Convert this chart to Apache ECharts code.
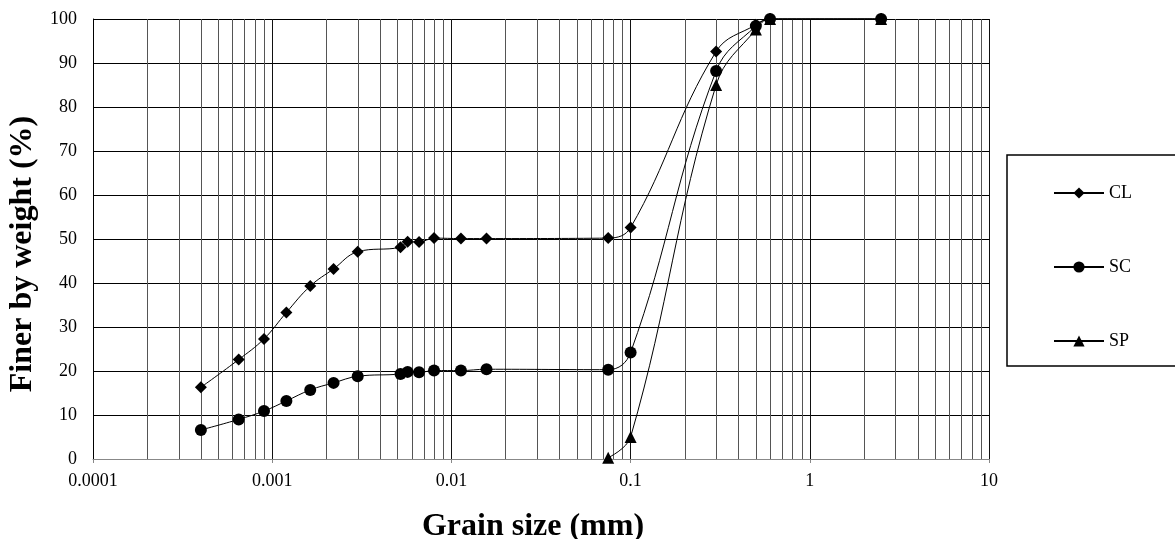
<!DOCTYPE html>
<html>
<head>
<meta charset="utf-8">
<script src="https://cdn.jsdelivr.net/npm/echarts@6/dist/echarts.min.js"></script>
<style>
  html, body { margin: 0; padding: 0; background: #fff; }
  #chart { width: 1175px; height: 539px; }
</style>
</head>
<body>
<div id="chart"></div>
<script>
// Grain size distribution curves (log grain size vs. percent finer)
const seriesNames = ['CL', 'SC', 'SP'];

const clSize = [0.0004, 0.00065, 0.0009, 0.0012, 0.00163, 0.0022, 0.003, 0.0052, 0.0057, 0.0066, 0.008, 0.0113, 0.0157, 0.075, 0.1, 0.3, 0.5, 0.6, 2.5];
const clFiner = [16.3, 22.6, 27.3, 33.3, 39.3, 43.2, 47.1, 48.1, 49.4, 49.3, 50.2, 50.1, 50.1, 50.2, 52.6, 92.6, 98.7, 100, 100];

const scSize = [0.0004, 0.00065, 0.0009, 0.0012, 0.00163, 0.0022, 0.003, 0.0052, 0.0057, 0.0066, 0.008, 0.0113, 0.0157, 0.075, 0.1, 0.3, 0.5, 0.6, 2.5];
const scFiner = [6.6, 9.0, 10.9, 13.2, 15.7, 17.3, 18.8, 19.3, 19.8, 19.7, 20.1, 20.1, 20.4, 20.3, 24.2, 88.2, 98.4, 100, 100];

const spSize = [0.075, 0.1, 0.3, 0.5, 0.6, 2.5];
const spFiner = [0.3, 5.0, 85.0, 97.6, 100, 100];

const xTickLabels = ['0.0001', '0.001', '0.01', '0.1', '1', '10'];
const xMin = 0.0001, xMax = 10;
const yMin = 0, yMax = 100;

// Intermediate log gridlines at 2..9 of each decade
const minorGrid = [];
for (let e = -4; e < 1; e++) {
  for (let k = 2; k <= 9; k++) minorGrid.push([k * Math.pow(10, e)]);
}

const pairs = (xs, ys) => xs.map((x, i) => [x, ys[i]]);

const serif = '"Liberation Serif", "Times New Roman", serif';

const baseSeries = {
  type: 'line',
  smooth: 0.4,
  clip: false,
  color: '#000',
  lineStyle: { color: '#000', width: 1 },
  itemStyle: { color: '#000' },
  z: 5
};

const chart = echarts.init(document.getElementById('chart'));
chart.setOption({
  animation: false,
  backgroundColor: '#fff',
  grid: { left: 93, right: 186, top: 19, bottom: 80, containLabel: false, outerBoundsMode: 'none' },
  xAxis: {
    type: 'log',
    logBase: 10,
    min: xMin,
    max: xMax,
    name: 'Grain size (mm)',
    nameLocation: 'middle',
    nameGap: 52,
    nameTextStyle: { fontFamily: serif, fontSize: 32, fontWeight: 'bold', color: '#000', padding: [0, 16, 0, 0] },
    axisLine: { show: true, lineStyle: { color: '#888', width: 1 } },
    axisTick: { show: true, length: 4, lineStyle: { color: '#888' } },
    axisLabel: {
      margin: 13,
      fontFamily: serif, fontSize: 18, color: '#000',
      formatter: (v, i) => xTickLabels[i] !== undefined ? xTickLabels[i] : ''
    },
    splitLine: { show: true, lineStyle: { color: '#111', width: 1 } },
    minorTick: { show: false },
    minorSplitLine: { show: false }
  },
  yAxis: {
    type: 'value',
    min: yMin,
    max: yMax,
    interval: 10,
    name: 'Finer by weight (%)',
    nameLocation: 'middle',
    nameGap: 48,
    nameTextStyle: { fontFamily: serif, fontSize: 32, fontWeight: 'bold', color: '#000', padding: [0, 30, 0, 0] },
    axisLine: { show: true, lineStyle: { color: '#000', width: 1 } },
    axisTick: { show: false },
    axisLabel: { margin: 16, fontFamily: serif, fontSize: 18, color: '#000' },
    splitLine: { show: true, lineStyle: { color: '#000', width: 1 } }
  },
  legend: {
    orient: 'vertical',
    left: 1053,
    top: 184,
    itemWidth: 50,
    itemHeight: 14,
    itemGap: 56,
    padding: 0,
    textStyle: { fontFamily: serif, fontSize: 18, color: '#000' },
    data: seriesNames
  },
  graphic: [{
    type: 'rect',
    shape: { x: 1007, y: 155, width: 200, height: 211 },
    style: { fill: 'none', stroke: '#000', lineWidth: 1.5 },
    z: 0
  }],
  series: [
    {
      // vertical gridlines between the decades, snapped to whole pixels
      type: 'custom',
      silent: true,
      z: 1,
      data: minorGrid,
      renderItem: (params, api) => {
        const p0 = api.coord([api.value(0), yMin]);
        const p1 = api.coord([api.value(0), yMax]);
        const x = Math.round(p0[0]) + 0.5;
        return {
          type: 'line',
          shape: { x1: x, y1: p0[1], x2: x, y2: p1[1] },
          style: { stroke: '#555', lineWidth: 1 }
        };
      }
    },
    Object.assign({}, baseSeries, {
      name: seriesNames[0],
      symbol: 'diamond',
      symbolSize: 12,
      data: pairs(clSize, clFiner)
    }),
    Object.assign({}, baseSeries, {
      name: seriesNames[1],
      symbol: 'circle',
      symbolSize: 12,
      data: pairs(scSize, scFiner)
    }),
    Object.assign({}, baseSeries, {
      name: seriesNames[2],
      symbol: 'triangle',
      symbolSize: 12,
      data: pairs(spSize, spFiner)
    })
  ]
});
</script>
</body>
</html>
